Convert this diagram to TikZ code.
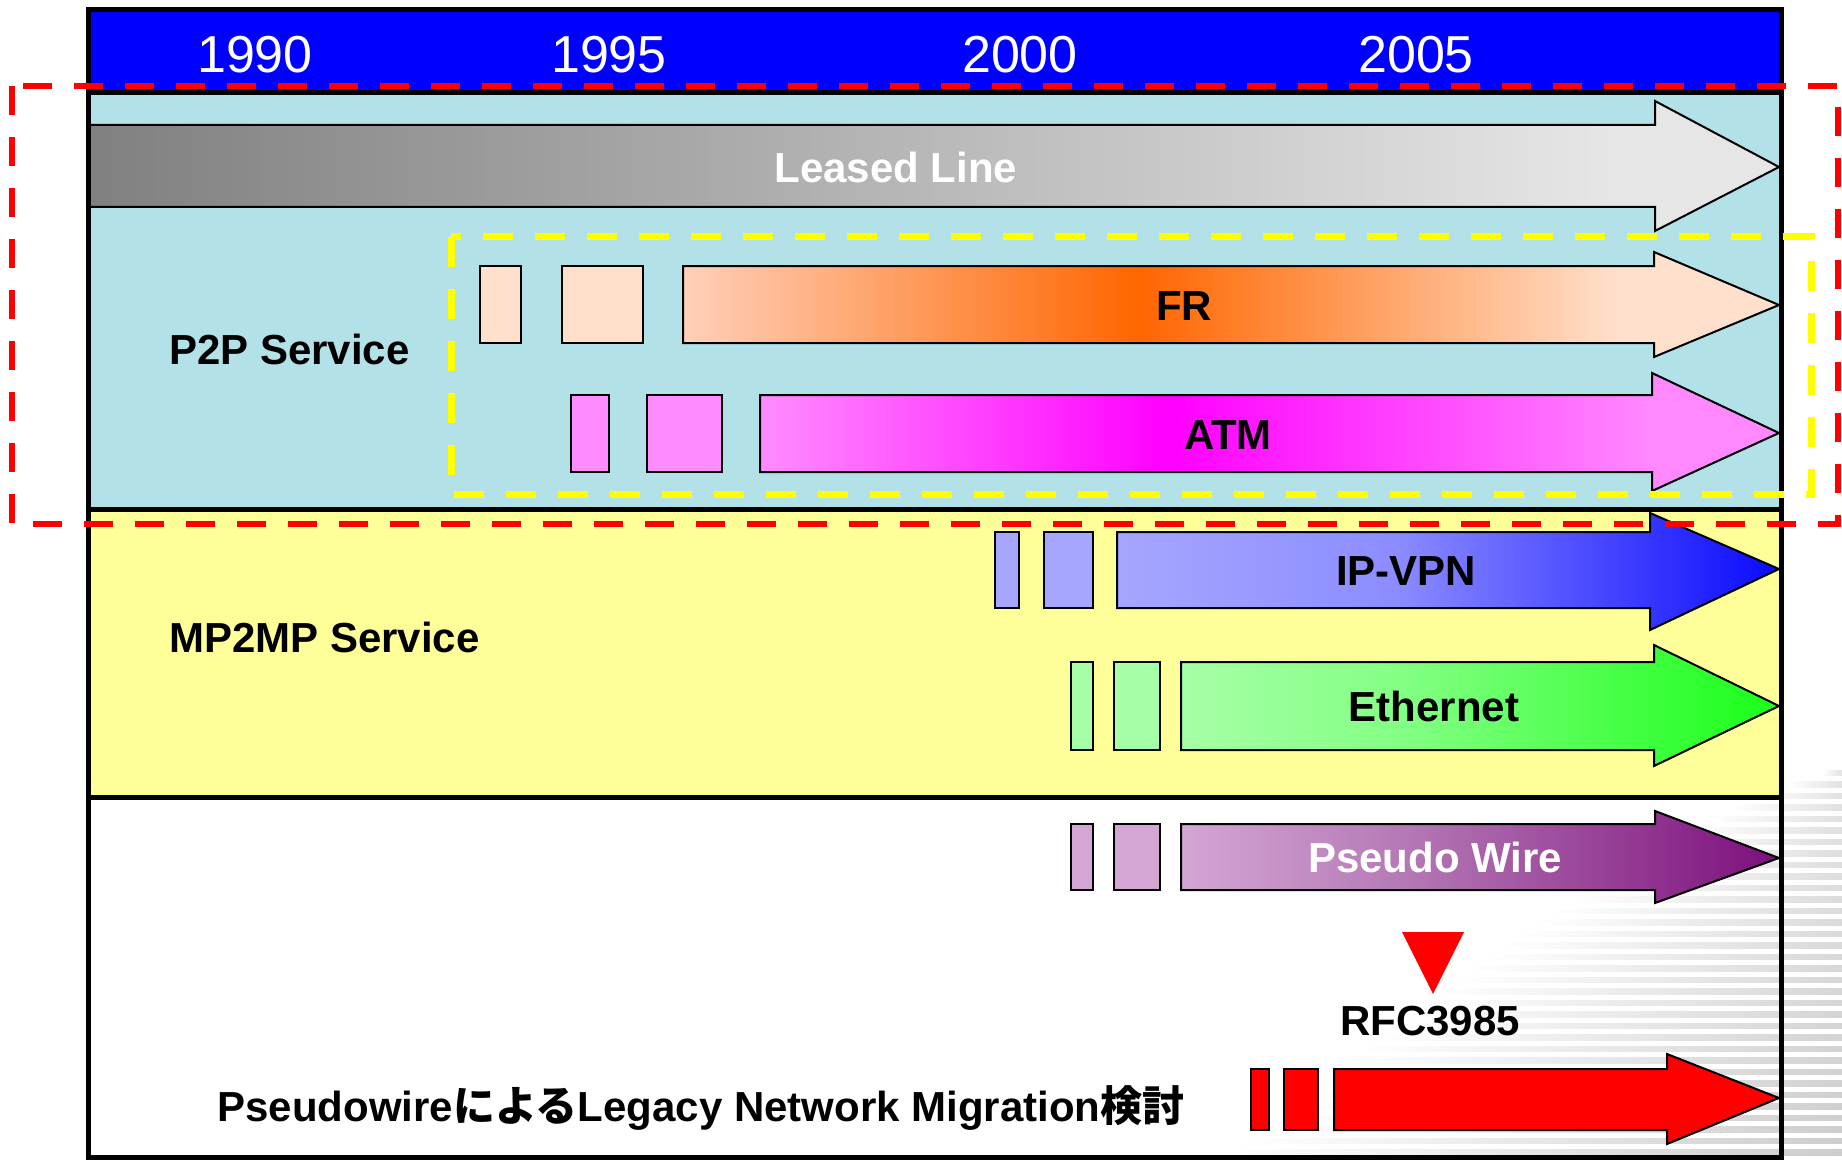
\documentclass[tikz,border=0pt]{standalone}
\usepackage{fontspec}
\setmainfont{Liberation Sans}
\newfontfamily\cjk{Noto Sans CJK JP}

% colours
\definecolor{hdrblue}{RGB}{0,0,255}
\definecolor{ptpband}{RGB}{179,225,232}
\definecolor{mpband}{RGB}{255,255,153}
\definecolor{llA}{RGB}{128,128,128}
\definecolor{llB}{RGB}{230,230,230}
\definecolor{frA}{RGB}{255,208,186}
\definecolor{frB}{RGB}{255,102,0}
\definecolor{frC}{RGB}{255,224,204}
\definecolor{frBox}{RGB}{255,222,202}
\definecolor{atmA}{RGB}{255,140,255}
\definecolor{atmB}{RGB}{255,0,255}
\definecolor{atmC}{RGB}{255,136,255}
\definecolor{vpnA}{RGB}{166,166,255}
\definecolor{vpnB}{RGB}{140,140,255}
\definecolor{vpnC}{RGB}{10,10,255}
\definecolor{ethA}{RGB}{166,255,166}
\definecolor{ethB}{RGB}{130,255,130}
\definecolor{ethC}{RGB}{25,255,25}
\definecolor{pwA}{RGB}{212,166,212}
\definecolor{pwB}{RGB}{180,120,180}
\definecolor{pwC}{RGB}{125,15,125}
\definecolor{dashyellow}{RGB}{255,255,0}

% horizontal shadings: the path is fitted to the 25bp..75bp range
\pgfdeclarehorizontalshading{leasedshade}{100bp}{color(0bp)=(llA); color(25bp)=(llA); color(70bp)=(llB); color(100bp)=(llB)}
\pgfdeclarehorizontalshading{frshade}{100bp}{color(0bp)=(frA); color(25bp)=(frA); color(45.8bp)=(frB); color(67.7bp)=(frC); color(100bp)=(frC)}
\pgfdeclarehorizontalshading{atmshade}{100bp}{color(0bp)=(atmA); color(25bp)=(atmA); color(45bp)=(atmB); color(68.7bp)=(atmC); color(100bp)=(atmC)}
\pgfdeclarehorizontalshading{vpnshade}{100bp}{color(0bp)=(vpnA); color(25bp)=(vpnA); color(46bp)=(vpnB); color(75bp)=(vpnC); color(100bp)=(vpnC)}
\pgfdeclarehorizontalshading{ethshade}{100bp}{color(0bp)=(ethA); color(25bp)=(ethA); color(44bp)=(ethB); color(75bp)=(ethC); color(100bp)=(ethC)}
\pgfdeclarehorizontalshading{pwshade}{100bp}{color(0bp)=(pwA); color(25bp)=(pwA); color(44bp)=(pwB); color(75bp)=(pwC); color(100bp)=(pwC)}

\tikzset{
  outline/.style={draw=black, line width=2pt},
  barbox/.style={outline, fill=#1},
  lbl/.style={font=\fontsize{42}{48}\selectfont\bfseries, anchor=base, inner sep=0pt},
  yearlbl/.style={font=\fontsize{52}{60}\selectfont, text=white, anchor=base, inner sep=0pt},
  bandline/.style={line width=5pt, draw=black},
  reddash/.style={draw=red, line width=6.5pt, dash pattern=on 29pt off 22pt},
  yellowdash/.style={draw=dashyellow, line width=7pt, dash pattern=on 30pt off 22pt},
}

% block arrow: #1 style, #2 tail x, #3 head base x, #4/#5 shaft top/bottom,
% #6/#7 head top/bottom, #8 tip y
\newcommand\blockarrow[8]{%
  \path[#1] (#2,#4) -- (#3,#4) -- (#3,#6) -- (1779,#8) -- (#3,#7) -- (#3,#5) -- (#2,#5) -- cycle;}

\begin{document}
\begin{tikzpicture}[x=1pt, y=-1pt]
\useasboundingbox (0,0) rectangle (1842,1161);
\fill[white] (0,0) rectangle (1842,1161);

% striped backdrop fading towards the lower right corner
\foreach \i in {0,...,34} {
  \pgfmathsetmacro\yy{770+\i*11.5}
  \pgfmathsetmacro\tt{\i/34}
  \pgfmathsetmacro\xs{1842-620*(\tt+0.01)^0.75}
  \pgfmathsetmacro\gv{11+9*\tt}
  \pgfmathsetmacro\gm{0.75*\gv}
  \shade[left color=white, middle color=black!\gm, right color=black!\gv] (\xs,\yy) rectangle (1842,\yy+5.5);
}

% bands
\fill[hdrblue] (88,10) rectangle (1781,93);
\fill[ptpband] (88,93) rectangle (1781,509);
\fill[mpband] (88,509) rectangle (1781,797);

% year scale
\node[yearlbl] (y1990) at (255,72.5) {1990};
\node[yearlbl] (y1995) at (609,72.5) {1995};
\node[yearlbl] (y2000) at (1020,72.5) {2000};
\node[yearlbl] (y2005) at (1416,72.5) {2005};

% Leased Line
\blockarrow{outline, shade, shading=leasedshade}{88}{1655}{125}{207}{101}{231}{167}
\node[lbl, text=white] (leased) at (896,183) {Leased Line};

% FR
\path[barbox=frC] (480,266) rectangle (521,343);
\path[barbox=frBox] (562,266) rectangle (643,343);
\blockarrow{outline, shade, shading=frshade}{683}{1654}{266}{343}{252}{357}{305}
\node[lbl] (fr) at (1184,320) {FR};

% ATM
\path[barbox=atmA] (571,395) rectangle (609,472);
\path[barbox=atmA] (647,395) rectangle (722,472);
\blockarrow{outline, shade, shading=atmshade}{760}{1652}{395}{472}{373}{491}{433}
\node[lbl] (atm) at (1228,449) {ATM};

% IP-VPN
\path[barbox=vpnA] (995,532) rectangle (1019,608);
\path[barbox=vpnA] (1044,532) rectangle (1093,608);
\blockarrow{outline, shade, shading=vpnshade}{1117}{1650}{532}{608}{513}{630}{569}
\node[lbl] (ipvpn) at (1406,585) {IP-VPN};

% Ethernet
\path[barbox=ethA] (1071,662) rectangle (1093,750);
\path[barbox=ethA] (1114,662) rectangle (1160,750);
\blockarrow{outline, shade, shading=ethshade}{1181}{1654}{662}{750}{645}{766}{706}
\node[lbl] (ether) at (1434,721) {Ethernet};

% Pseudo Wire
\path[barbox=pwA] (1071,824) rectangle (1093,890);
\path[barbox=pwA] (1114,824) rectangle (1160,890);
\blockarrow{outline, shade, shading=pwshade}{1181}{1655}{824}{890}{811}{903}{858}
\node[lbl, text=white] (pw) at (1435,872) {Pseudo Wire};

% RFC marker
\fill[red] (1402,932) -- (1464,932) -- (1433,994) -- cycle;
\node[lbl] (rfc) at (1430,1035) {RFC3985};

% migration study
\path[barbox=red] (1251,1069) rectangle (1269,1130);
\path[barbox=red] (1284,1069) rectangle (1318,1130);
\blockarrow{outline, fill=red}{1334}{1667}{1069}{1130}{1054}{1144}{1098}
\node[lbl] (migr) at (701,1121) {Pseudowire{\cjk\bfseries による}Legacy Network Migration{\cjk\bfseries 検討}};

% service labels
\node[lbl, anchor=base west] (p2p) at (169,364) {P2P Service};
\node[lbl, anchor=base west] (mp2mp) at (169,652) {MP2MP Service};

% frame and band separators
\draw[bandline] (88,93) -- (1781,93);
\draw[bandline] (88,509) -- (1781,509);
\draw[bandline] (88,797) -- (1781,797);
\draw[bandline] (88,10) rectangle (1781,1157);

% grouping boxes
\draw[yellowdash] (451,237) rectangle (1811,494);
\draw[reddash] (12,86) rectangle (1838,524);
\end{tikzpicture}
\end{document}
